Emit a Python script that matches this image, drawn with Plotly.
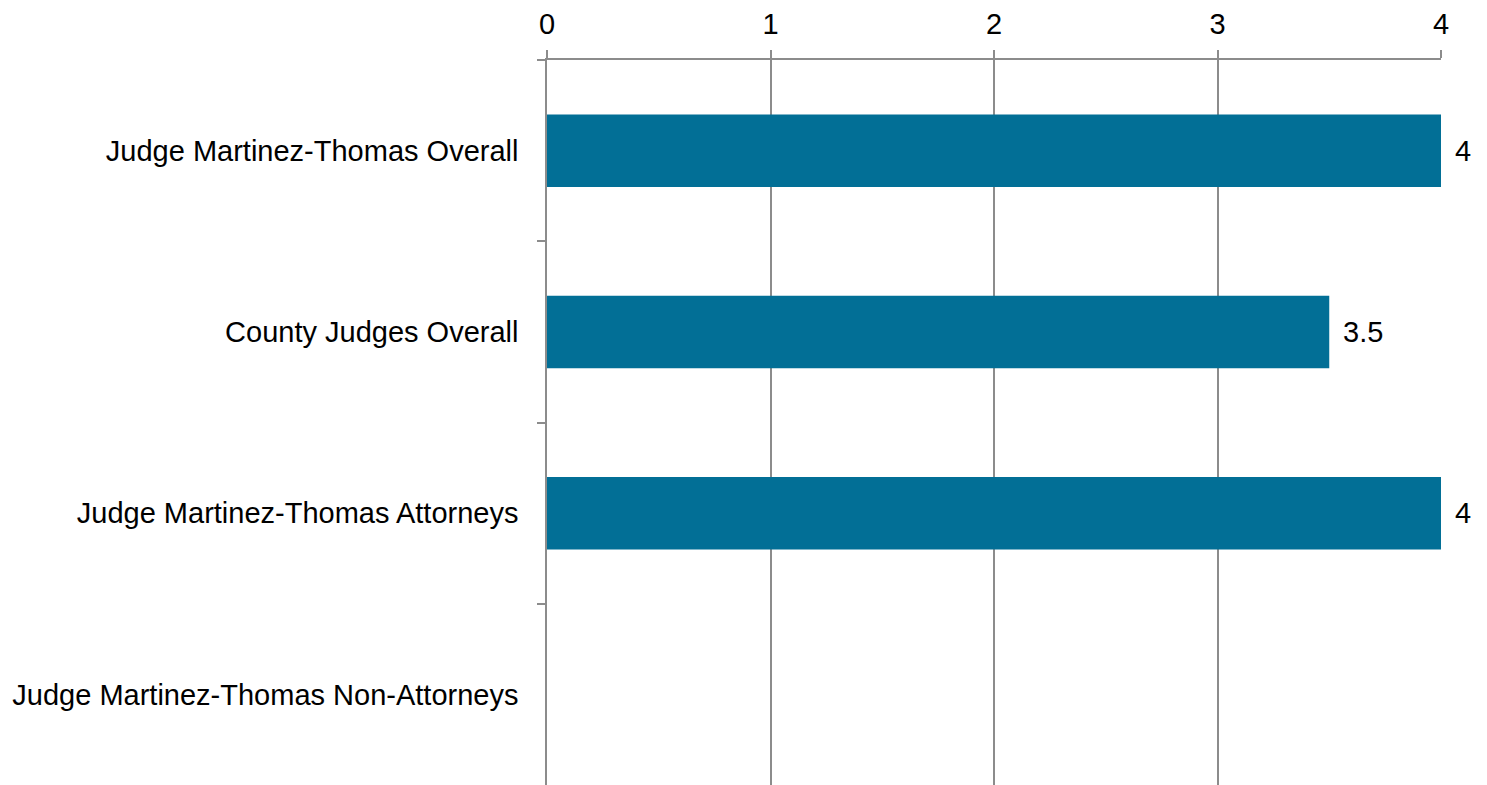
import plotly.graph_objects as go

categories = [
    "Judge Martinez-Thomas Overall",
    "County Judges Overall",
    "Judge Martinez-Thomas Attorneys",
    "Judge Martinez-Thomas Non-Attorneys",
]
values = [4, 3.5, 4, None]
x_ticks = [0, 1, 2, 3, 4]

fig = go.Figure(
    go.Bar(
        y=categories,
        x=values,
        orientation="h",
        marker=dict(color="#026F96", line=dict(width=0)),
        width=0.4,
        hoverinfo="x+y",
    )
)

# data labels
for c, v in zip(categories, values):
    if v is None:
        continue
    fig.add_annotation(
        x=v, y=c, text=f"{v:g}", showarrow=False,
        xanchor="left", yanchor="middle", xshift=12,
        font=dict(family="Liberation Sans, Arial", size=29, color="#000000"),
    )

gray = "#8c8c8c"
fig.update_layout(
    width=1479,
    height=777,
    margin=dict(l=539, r=46, t=50, b=0),
    plot_bgcolor="white",
    paper_bgcolor="white",
    showlegend=False,
    font=dict(family="Liberation Sans, Arial", size=29, color="#000000"),
    xaxis=dict(
        side="top",
        range=[0, 4],
        tickvals=x_ticks,
        showgrid=True,
        gridcolor=gray,
        gridwidth=1.5,
        showline=True,
        linecolor=gray,
        linewidth=1.5,
        ticks="outside",
        ticklen=8,
        tickcolor=gray,
        tickwidth=1.5,
        zeroline=False,
        tickfont=dict(size=29),
        ticklabelstandoff=5,
    ),
    yaxis=dict(
        autorange="reversed",
        showline=True,
        linecolor=gray,
        linewidth=1.5,
        ticks="outside",
        tickson="boundaries",
        ticklen=8,
        tickcolor=gray,
        tickwidth=1.5,
        showgrid=False,
        tickfont=dict(size=29),
        ticklabelstandoff=21,
    ),
)

fig.write_html("out.html")
